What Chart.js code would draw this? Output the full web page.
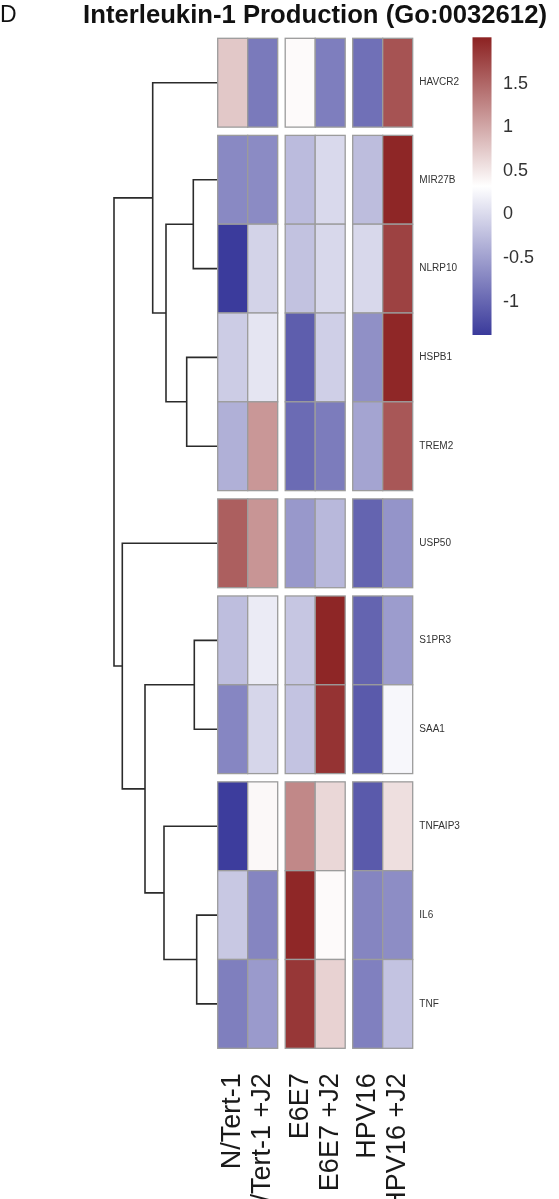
<!DOCTYPE html>
<html>
<head>
<meta charset="utf-8">
<script src="https://cdn.jsdelivr.net/npm/chart.js@4.4.1/dist/chart.umd.min.js"></script>
<style>
  html, body { margin: 0; padding: 0; background: #fff; }
  #wrap { position: relative; width: 559px; height: 1199px; overflow: hidden; }
  #heat { position: absolute; left: 0; top: 0; }
  #legend { position: absolute; left: 440px; top: 0; }
  #panel { position: absolute; left: 0; top: 3px; font: 23px 'Liberation Sans', Arial, sans-serif; line-height: 23px; color: #111; }
</style>
</head>
<body>
<div id="wrap">
  <canvas id="heat" width="559" height="1199"></canvas>
  <canvas id="legend" width="119" height="360"></canvas>
  <div id="panel">D</div>
</div>
<script>
const TITLE = 'Interleukin-1 Production (Go:0032612)'
const GENES = ['HAVCR2', 'MIR27B', 'NLRP10', 'HSPB1', 'TREM2', 'USP50', 'S1PR3', 'SAA1', 'TNFAIP3', 'IL6', 'TNF']
const SAMPLES = ['N/Tert-1', 'N/Tert-1 +J2', 'E6E7', 'E6E7 +J2', 'HPV16', 'HPV16 +J2']
const ROW_GROUPS = [1, 4, 1, 2, 3]
const COL_GROUPS = [2, 2, 2]

// z-scores, one array per gene, columns in SAMPLES order
const havcr2  = [0.75, -0.83, 0.36, -0.79, -0.91, 1.65]
const mir27b  = [-0.70, -0.68, -0.26, 0.00, -0.25, 2.00]
const nlrp10  = [-1.37, -0.06, -0.20, -0.01, -0.01, 1.78]
const hspb1   = [-0.12, 0.10, -1.07, -0.09, -0.64, 1.99]
const trem2   = [-0.36, 1.13, -0.96, -0.81, -0.46, 1.62]
const usp50   = [1.56, 1.14, -0.57, -0.29, -1.02, -0.60]
const s1pr3   = [-0.24, 0.15, -0.17, 2.00, -1.02, -0.53]
const saa1    = [-0.72, -0.03, -0.19, 1.90, -1.10, 0.26]
const tnfaip3 = [-1.35, 0.38, 1.24, 0.63, -1.10, 0.57]
const il6     = [-0.15, -0.73, 1.99, 0.36, -0.73, -0.66]
const tnf     = [-0.78, -0.55, 1.87, 0.67, -0.77, -0.19]
const VALUES = [havcr2, mir27b, nlrp10, hspb1, trem2, usp50, s1pr3, saa1, tnfaip3, il6, tnf]

// row dendrogram, hclust style: negative = leaf (1-based gene), positive = earlier merge
const MERGES = [
  [-2, -3, 2.44],
  [-4, -5, 3.10],
  [1, 2, 5.17],
  [-1, 3, 6.50],
  [-7, -8, 2.34],
  [-10, -11, 2.10],
  [-9, 6, 5.37],
  [5, 7, 7.27],
  [-6, 8, 9.54],
  [4, 9, 10.37]
]

const LEGEND_MIN = -1.38
const LEGEND_MAX = 2.03
const LEGEND_TICKS = [-1, -0.5, 0, 0.5, 1, 1.5]

const LOW = [58, 58, 155]
const HIGH = [140, 34, 34]
const COLGAP = 0.25
const ROWGAP = 0.093
const DSCALE = 1 / 3
const FONT = "'Liberation Sans', Arial, Helvetica, sans-serif"
Chart.defaults.font.family = FONT

function groupIndex(groups, i) {
    let n = 0
    for (let g = 0; g < groups.length; g++) {
        n += groups[g]
        if (i < n) return g
    }
    return groups.length - 1
}
const colLeft = c => c + groupIndex(COL_GROUPS, c) * COLGAP
const rowTop = r => r + groupIndex(ROW_GROUPS, r) * ROWGAP
const X_MAX = SAMPLES.length + (COL_GROUPS.length - 1) * COLGAP
const Y_MAX = GENES.length + (ROW_GROUPS.length - 1) * ROWGAP

function mix(a, b, t) {
    t = Math.max(0, Math.min(1, t))
    return 'rgb(' + a.map((v, i) => Math.round(v + (b[i] - v) * t)).join(',') + ')'
}
function cellColor(v) {
    let mid = (LEGEND_MIN + LEGEND_MAX) / 2
    if (v < mid) return mix([255, 255, 255], LOW, (mid - v) / (mid - LEGEND_MIN))
    return mix([255, 255, 255], HIGH, (v - mid) / (LEGEND_MAX - mid))
}

// dendrogram segments from the merge table
var nodes = []
function nodeOf(k) {
    if (k < 0) return { y: rowTop(-k - 1) + 0.5, h: 0 }
    return nodes[k - 1]
}
var dendroSets = []
MERGES.forEach(m => {
    let a = nodeOf(m[0]), b = nodeOf(m[1]), h = m[2]
    nodes.push({ y: (a.y + b.y) / 2, h: h })
    dendroSets.push({
        data: [
            { x: -a.h * DSCALE, y: a.y },
            { x: -h * DSCALE, y: a.y },
            { x: -h * DSCALE, y: b.y },
            { x: -b.h * DSCALE, y: b.y }
        ],
        showLine: true,
        borderColor: '#2b2b2b',
        borderWidth: 1.6,
        pointRadius: 0,
        tension: 0
    })
})

const heatCells = {
    id: 'heatCells',
    afterDatasetsDraw(chart) {
        const ctx = chart.ctx
        const xs = chart.scales.x, ys = chart.scales.y
        ctx.save()
        VALUES.forEach((row, r) => {
            row.forEach((v, c) => {
                let x0 = xs.getPixelForValue(colLeft(c)), x1 = xs.getPixelForValue(colLeft(c) + 1)
                let y0 = ys.getPixelForValue(rowTop(r)), y1 = ys.getPixelForValue(rowTop(r) + 1)
                ctx.fillStyle = cellColor(v)
                ctx.fillRect(x0, y0, x1 - x0, y1 - y0)
                ctx.strokeStyle = '#9c9c9c'
                ctx.lineWidth = 1.3
                ctx.strokeRect(x0, y0, x1 - x0, y1 - y0)
            })
        })
        ctx.restore()
    }
}

var heat = new Chart(document.getElementById('heat'), {
    type: 'scatter',
    data: { datasets: dendroSets },
    options: {
        responsive: false,
        animation: false,
        events: [],
        layout: { padding: { left: 60, right: 12, top: 0, bottom: 0 } },
        plugins: {
            legend: { display: false },
            tooltip: { enabled: false },
            title: {
                display: true,
                text: TITLE,
                align: 'end',
                color: '#111',
                font: { family: FONT, size: 25.7, weight: 'bold', lineHeight: 1.2 },
                padding: { top: 0, bottom: 7.46 }
            }
        },
        scales: {
            x: {
                type: 'linear',
                position: 'bottom',
                min: -157.7 / 30,
                max: X_MAX,
                grid: { display: false, drawTicks: false },
                border: { display: false },
                afterBuildTicks: s => { s.ticks = SAMPLES.map((n, c) => ({ value: colLeft(c) + 0.5 })) },
                afterFit: s => { s.height = 150.7 },
                ticks: {
                    autoSkip: false,
                    minRotation: 90,
                    maxRotation: 90,
                    padding: 25,
                    color: '#1a1a1a',
                    font: { size: 27 },
                    callback: (v, i) => SAMPLES[i]
                }
            },
            y: {
                type: 'linear',
                position: 'right',
                reverse: true,
                min: 0,
                max: Y_MAX,
                grid: { display: false, drawTicks: false },
                border: { display: false },
                afterBuildTicks: s => { s.ticks = GENES.map((n, r) => ({ value: rowTop(r) + 0.5 })) },
                afterFit: s => { s.width = 134.3 },
                ticks: {
                    autoSkip: false,
                    padding: 6.6,
                    color: '#333',
                    font: { size: 10 },
                    callback: (v, i) => GENES[i]
                }
            }
        }
    },
    plugins: [heatCells]
})

const colorBar = {
    id: 'colorBar',
    beforeDatasetsDraw(chart) {
        const ctx = chart.ctx, a = chart.chartArea, ys = chart.scales.y
        let top = ys.getPixelForValue(LEGEND_MAX), bottom = ys.getPixelForValue(LEGEND_MIN)
        let g = ctx.createLinearGradient(0, top, 0, bottom)
        g.addColorStop(0, mix(HIGH, HIGH, 0))
        g.addColorStop(0.5, '#ffffff')
        g.addColorStop(1, mix(LOW, LOW, 0))
        ctx.save()
        ctx.fillStyle = g
        ctx.fillRect(a.left, top, a.right - a.left, bottom - top)
        ctx.restore()
    }
}

var legend = new Chart(document.getElementById('legend'), {
    type: 'scatter',
    data: { datasets: [] },
    options: {
        responsive: false,
        animation: false,
        events: [],
        layout: { padding: { left: 32.5, right: 0, top: 37.3, bottom: 25 } },
        plugins: { legend: { display: false }, tooltip: { enabled: false } },
        scales: {
            x: { display: false, min: 0, max: 1 },
            y: {
                type: 'linear',
                position: 'right',
                min: LEGEND_MIN,
                max: LEGEND_MAX,
                grid: { display: false, drawTicks: false },
                border: { display: false },
                afterBuildTicks: s => { s.ticks = LEGEND_TICKS.map(v => ({ value: v })) },
                afterFit: s => { s.width = 67.5 },
                ticks: {
                    padding: 11.5,
                    color: '#333',
                    font: { size: 18 },
                    callback: v => String(v)
                }
            }
        }
    },
    plugins: [colorBar]
})
</script>
</body>
</html>
